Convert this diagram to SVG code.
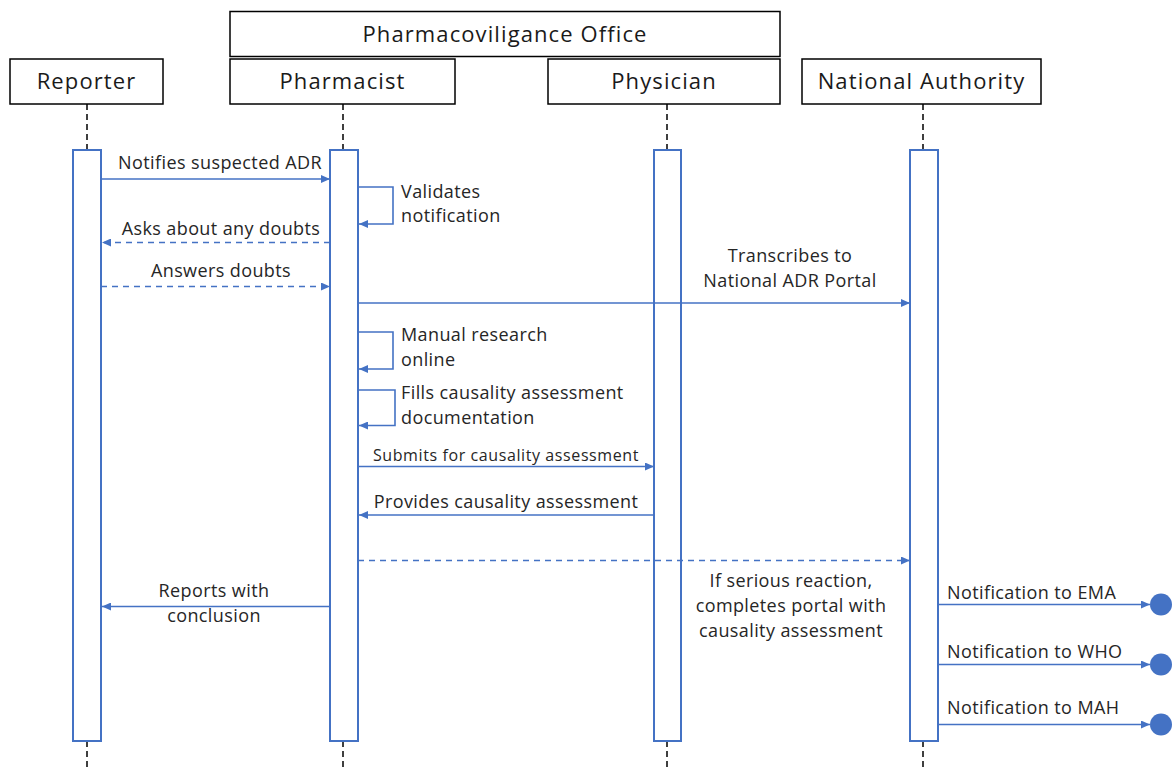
<svg xmlns="http://www.w3.org/2000/svg" width="1174" height="767" viewBox="0 0 1174 767">
  <style>
    .hdr { fill: #ffffff; stroke: #000000; stroke-width: 1.5; }
    .hdr-t { font-family: "Open Sans", "Liberation Sans", sans-serif; font-size: 22px; letter-spacing: 1.1px; fill: #1a1a1a; text-anchor: middle; }
    .life { stroke: #000000; stroke-width: 1.5; stroke-dasharray: 6 4; fill: none; }
    .act { fill: #ffffff; stroke: #4472c4; stroke-width: 2; }
    .msg { stroke: #4472c4; stroke-width: 1.6; fill: none; marker-end: url(#arrow); }
    .dash { stroke-dasharray: 6 5; }
    .lbl { font-family: "Open Sans", "Liberation Sans", sans-serif; font-size: 18px; letter-spacing: 0.4px; fill: #262626; }
    .mid { text-anchor: middle; }
    .sm { font-size: 16px; letter-spacing: 0.6px; }
    .end { fill: #4472c4; }
  </style>
  <defs>
    <marker id="arrow" markerUnits="userSpaceOnUse" markerWidth="10" markerHeight="8" refX="9" refY="4" orient="auto">
      <path d="M0,0 L9,4 L0,8 z" fill="#4472c4"/>
    </marker>
  </defs>

  <rect width="1174" height="767" fill="#ffffff"/>

  <!-- Participants -->
  <g id="office">
    <rect class="hdr" x="230" y="11.5" width="550" height="45"/>
    <text class="hdr-t" x="505" y="42">Pharmacoviligance Office</text>
  </g>
  <g id="reporter">
    <rect class="hdr" x="10" y="59" width="153" height="45"/>
    <text class="hdr-t" x="86.5" y="89">Reporter</text>
    <line class="life" x1="87" y1="104" x2="87" y2="150"/>
    <line class="life" x1="87" y1="741" x2="87" y2="767"/>
    <rect class="act" x="73" y="150" width="28" height="591"/>
  </g>
  <g id="pharmacist">
    <rect class="hdr" x="230" y="59" width="225" height="45"/>
    <text class="hdr-t" x="342.5" y="89">Pharmacist</text>
    <line class="life" x1="343" y1="104" x2="343" y2="150"/>
    <line class="life" x1="343" y1="741" x2="343" y2="767"/>
    <rect class="act" x="330" y="150" width="28" height="591"/>
  </g>
  <g id="physician">
    <rect class="hdr" x="548" y="59" width="232" height="45"/>
    <text class="hdr-t" x="664" y="89">Physician</text>
    <line class="life" x1="667" y1="104" x2="667" y2="150"/>
    <line class="life" x1="667" y1="741" x2="667" y2="767"/>
    <rect class="act" x="654" y="150" width="27" height="591"/>
  </g>
  <g id="national-authority">
    <rect class="hdr" x="802" y="59" width="239" height="45"/>
    <text class="hdr-t" x="921.5" y="89">National Authority</text>
    <line class="life" x1="923" y1="104" x2="923" y2="150"/>
    <line class="life" x1="923" y1="741" x2="923" y2="767"/>
    <rect class="act" x="910" y="150" width="28" height="591"/>
  </g>

  <!-- Messages -->
  <g id="connectors">
    <line class="msg" x1="101" y1="179" x2="330" y2="179"/>
    <polyline class="msg" points="358,187 393,187 393,224 359,224"/>
    <line class="msg dash" x1="330" y1="242.5" x2="102" y2="242.5"/>
    <line class="msg dash" x1="101" y1="286.5" x2="330" y2="286.5"/>
    <line class="msg" x1="358" y1="303" x2="910" y2="303"/>
    <polyline class="msg" points="358,332 393,332 393,369 359,369"/>
    <polyline class="msg" points="358,390 395,390 395,425.5 359,425.5"/>
    <line class="msg" x1="358" y1="466.5" x2="654" y2="466.5"/>
    <line class="msg" x1="654" y1="515" x2="359" y2="515"/>
    <line class="msg dash" x1="358" y1="560.5" x2="910" y2="560.5"/>
    <line class="msg" x1="330" y1="606.5" x2="102" y2="606.5"/>
    <line class="msg" x1="938" y1="604.5" x2="1150" y2="604.5"/>
    <line class="msg" x1="938" y1="664.5" x2="1150" y2="664.5"/>
    <line class="msg" x1="938" y1="724.5" x2="1150" y2="724.5"/>
    <circle class="end" cx="1161" cy="604.5" r="11"/>
    <circle class="end" cx="1161" cy="664.5" r="11"/>
    <circle class="end" cx="1161" cy="724.5" r="11"/>
  </g>

  <!-- Message labels -->
  <g id="labels">
    <text class="lbl mid" x="220" y="169">Notifies suspected ADR</text>
    <text class="lbl" x="401" y="198">Validates</text>
    <text class="lbl" x="401" y="222">notification</text>
    <text class="lbl mid" x="221" y="235">Asks about any doubts</text>
    <text class="lbl mid" x="221" y="277">Answers doubts</text>
    <text class="lbl mid" x="790" y="262">Transcribes to</text>
    <text class="lbl mid" x="790" y="287">National ADR Portal</text>
    <text class="lbl" x="401" y="341">Manual research</text>
    <text class="lbl" x="401" y="366">online</text>
    <text class="lbl" x="401" y="399">Fills causality assessment</text>
    <text class="lbl" x="401" y="424">documentation</text>
    <text class="lbl sm mid" x="506" y="461">Submits for causality assessment</text>
    <text class="lbl mid" x="506" y="508">Provides causality assessment</text>
    <text class="lbl mid" x="791" y="587">If serious reaction,</text>
    <text class="lbl mid" x="791" y="612">completes portal with</text>
    <text class="lbl mid" x="791" y="637">causality assessment</text>
    <text class="lbl mid" x="214" y="597">Reports with</text>
    <text class="lbl mid" x="214" y="622">conclusion</text>
    <text class="lbl" x="947" y="599">Notification to EMA</text>
    <text class="lbl" x="947" y="658">Notification to WHO</text>
    <text class="lbl" x="947" y="714">Notification to MAH</text>
  </g>
</svg>
